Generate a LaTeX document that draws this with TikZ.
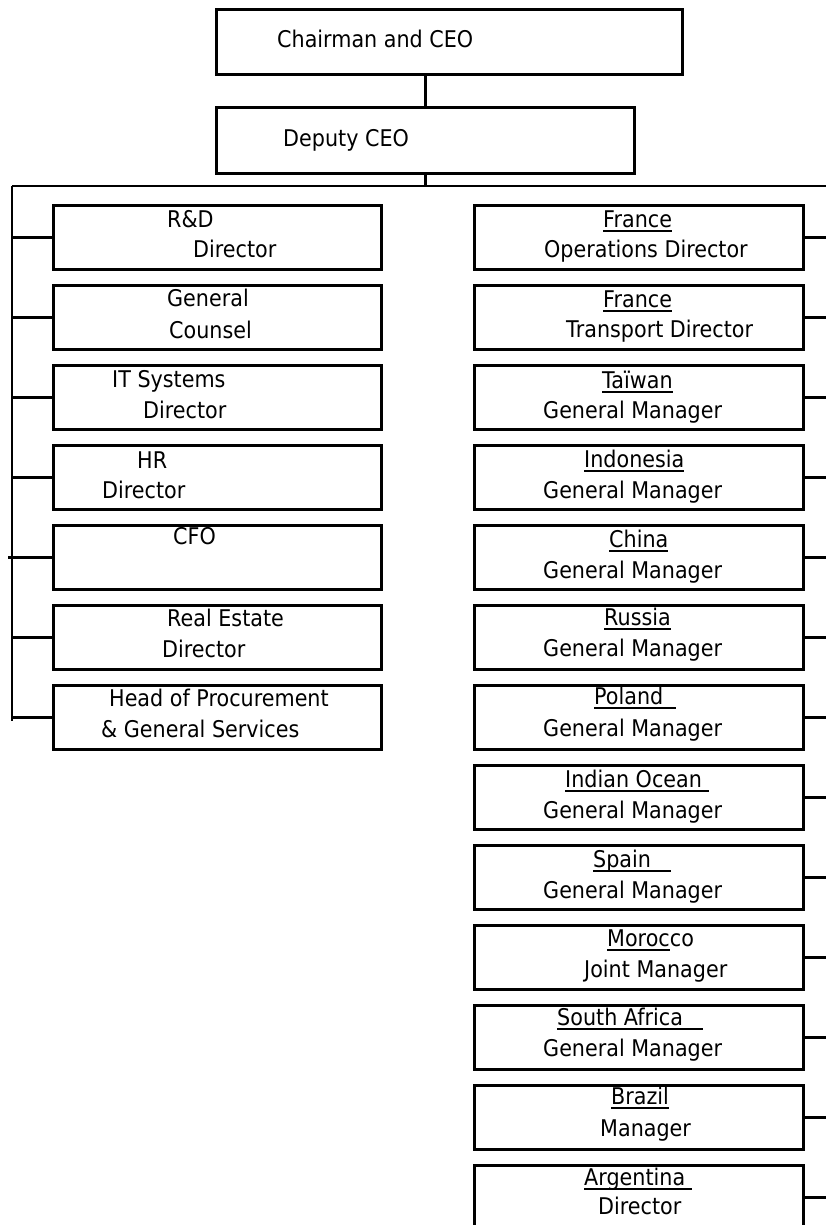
\documentclass[tikz,border=0pt]{standalone}
\usepackage{fontspec}
\setmainfont[FakeStretch=0.9]{DejaVu Sans}
\newlength\ulw
\newcommand\ulin[1]{\settowidth\ulw{#1}\rlap{\rule[-4.5pt]{\ulw}{1.6pt}}#1}
\begin{document}
\begin{tikzpicture}[x=1pt,y=-1pt,
  box/.style={draw=black,line width=2.8pt,rectangle,inner sep=0pt,anchor=north west},
  lbox/.style={box,minimum width=328pt,minimum height=64pt},
  rbox/.style={box,minimum width=329pt,minimum height=64pt},
  txt/.style={anchor=base west,inner sep=0pt,font=\fontsize{23pt}{27pt}\selectfont},
  conn/.style={line width=2.2pt,black}]
\useasboundingbox (0,0) rectangle (826,1225);
\clip (0,0) rectangle (826,1225);

% top boxes
\node[box,minimum width=466pt,minimum height=65pt] (chair) at (215,8) {};
\node[box,minimum width=418pt,minimum height=66pt] (deputy) at (215,106) {};
\node[txt] (tchair) at (277,48) {Chairman and CEO};
\node[txt] (tdeputy) at (283,147) {Deputy CEO};

% bus coordinates
\coordinate (busL) at (12,186);
\coordinate (busR) at (826,186);
\coordinate (busLend) at (12,721);

% left boxes
\node[lbox] (rd) at (52,204) {};
\node[lbox] (gc) at (52,284) {};
\node[lbox] (it) at (52,364) {};
\node[lbox] (hr) at (52,444) {};
\node[lbox] (cfo) at (52,524) {};
\node[lbox] (re) at (52,604) {};
\node[lbox] (proc) at (52,684) {};

\node[txt] (trd1) at (167,227) {R\&D};
\node[txt] (trd2) at (193,257) {Director};
\node[txt] (tgc1) at (167,306) {General};
\node[txt] (tgc2) at (169,338) {Counsel};
\node[txt] (tit1) at (112,387) {IT Systems};
\node[txt] (tit2) at (143,418) {Director};
\node[txt] (thr1) at (137,468) {HR};
\node[txt] (thr2) at (102,498) {Director};
\node[txt] (tcfo) at (173,544) {CFO};
\node[txt] (tre1) at (167,626) {Real Estate};
\node[txt] (tre2) at (162,657) {Director};
\node[txt] (tpr1) at (109,706) {Head of Procurement};
\node[txt] (tpr2) at (101,737) {\& General Services};

% right boxes
\node[rbox] (fop) at (473,204) {};
\node[rbox] (ftr) at (473,284) {};
\node[rbox] (tw) at (473,364) {};
\node[rbox] (id) at (473,444) {};
\node[rbox] (cn) at (473,524) {};
\node[rbox] (ru) at (473,604) {};
\node[rbox] (pl) at (473,684) {};
\node[rbox] (io) at (473,764) {};
\node[rbox] (es) at (473,844) {};
\node[rbox] (ma) at (473,924) {};
\node[rbox] (za) at (473,1004) {};
\node[rbox] (br) at (473,1084) {};
\node[rbox] (ar) at (473,1164) {};

\node[txt] (tfop1) at (603,227) {\ulin{France}};
\node[txt] (tfop2) at (544,257) {Operations Director};
\node[txt] (tftr1) at (603,307) {\ulin{France}};
\node[txt] (tftr2) at (566,337) {Transport Director};
\node[txt] (ttw1) at (602,388) {\ulin{Taïwan}};
\node[txt] (ttw2) at (543,418) {General Manager};
\node[txt] (tid1) at (584,467) {\ulin{Indonesia}};
\node[txt] (tid2) at (543,498) {General Manager};
\node[txt] (tcn1) at (609,547) {\ulin{China}};
\node[txt] (tcn2) at (543,578) {General Manager};
\node[txt] (tru1) at (604,625) {\ulin{Russia}};
\node[txt] (tru2) at (543,656) {General Manager};
\node[txt] (tpl1) at (594,704) {\ulin{Poland\ \ }};
\node[txt] (tpl2) at (543,736) {General Manager};
\node[txt] (tio1) at (565,787) {\ulin{Indian Ocean\ }};
\node[txt] (tio2) at (543,818) {General Manager};
\node[txt] (tes1) at (593,867) {\ulin{Spain\ \ \ }};
\node[txt] (tes2) at (543,898) {General Manager};
\node[txt] (tma1) at (607,946) {\ulin{Moroc}co};
\node[txt] (tma2) at (584,977) {Joint Manager};
\node[txt] (tza1) at (557,1025) {\ulin{South Africa\ \ \ }};
\node[txt] (tza2) at (543,1056) {General Manager};
\node[txt] (tbr1) at (611,1104) {\ulin{Brazil}};
\node[txt] (tbr2) at (600,1136) {Manager};
\node[txt] (tar1) at (584,1185) {\ulin{Argentina\ }};
\node[txt] (tar2) at (598,1214) {Director};

% connectors
\draw[conn] (deputy.north |- chair.south) -- (deputy.north);
\draw[conn] (deputy.south) -- (deputy.south |- busL);
\draw[conn] (busL) -- (busR);
\draw[conn] (busL) -- (busLend);
\foreach \n in {rd,gc,it,hr,re,proc}
  \draw[conn] (busL |- \n.west) -- (\n.west);
\draw[conn] ([xshift=-4pt]busL |- cfo.west) -- (cfo.west);
\foreach \n in {fop,ftr,tw,id,cn,ru,pl,io,es,ma,za,br,ar}
  \draw[conn] (\n.east) -- (busR |- \n.east);
\end{tikzpicture}
\end{document}
